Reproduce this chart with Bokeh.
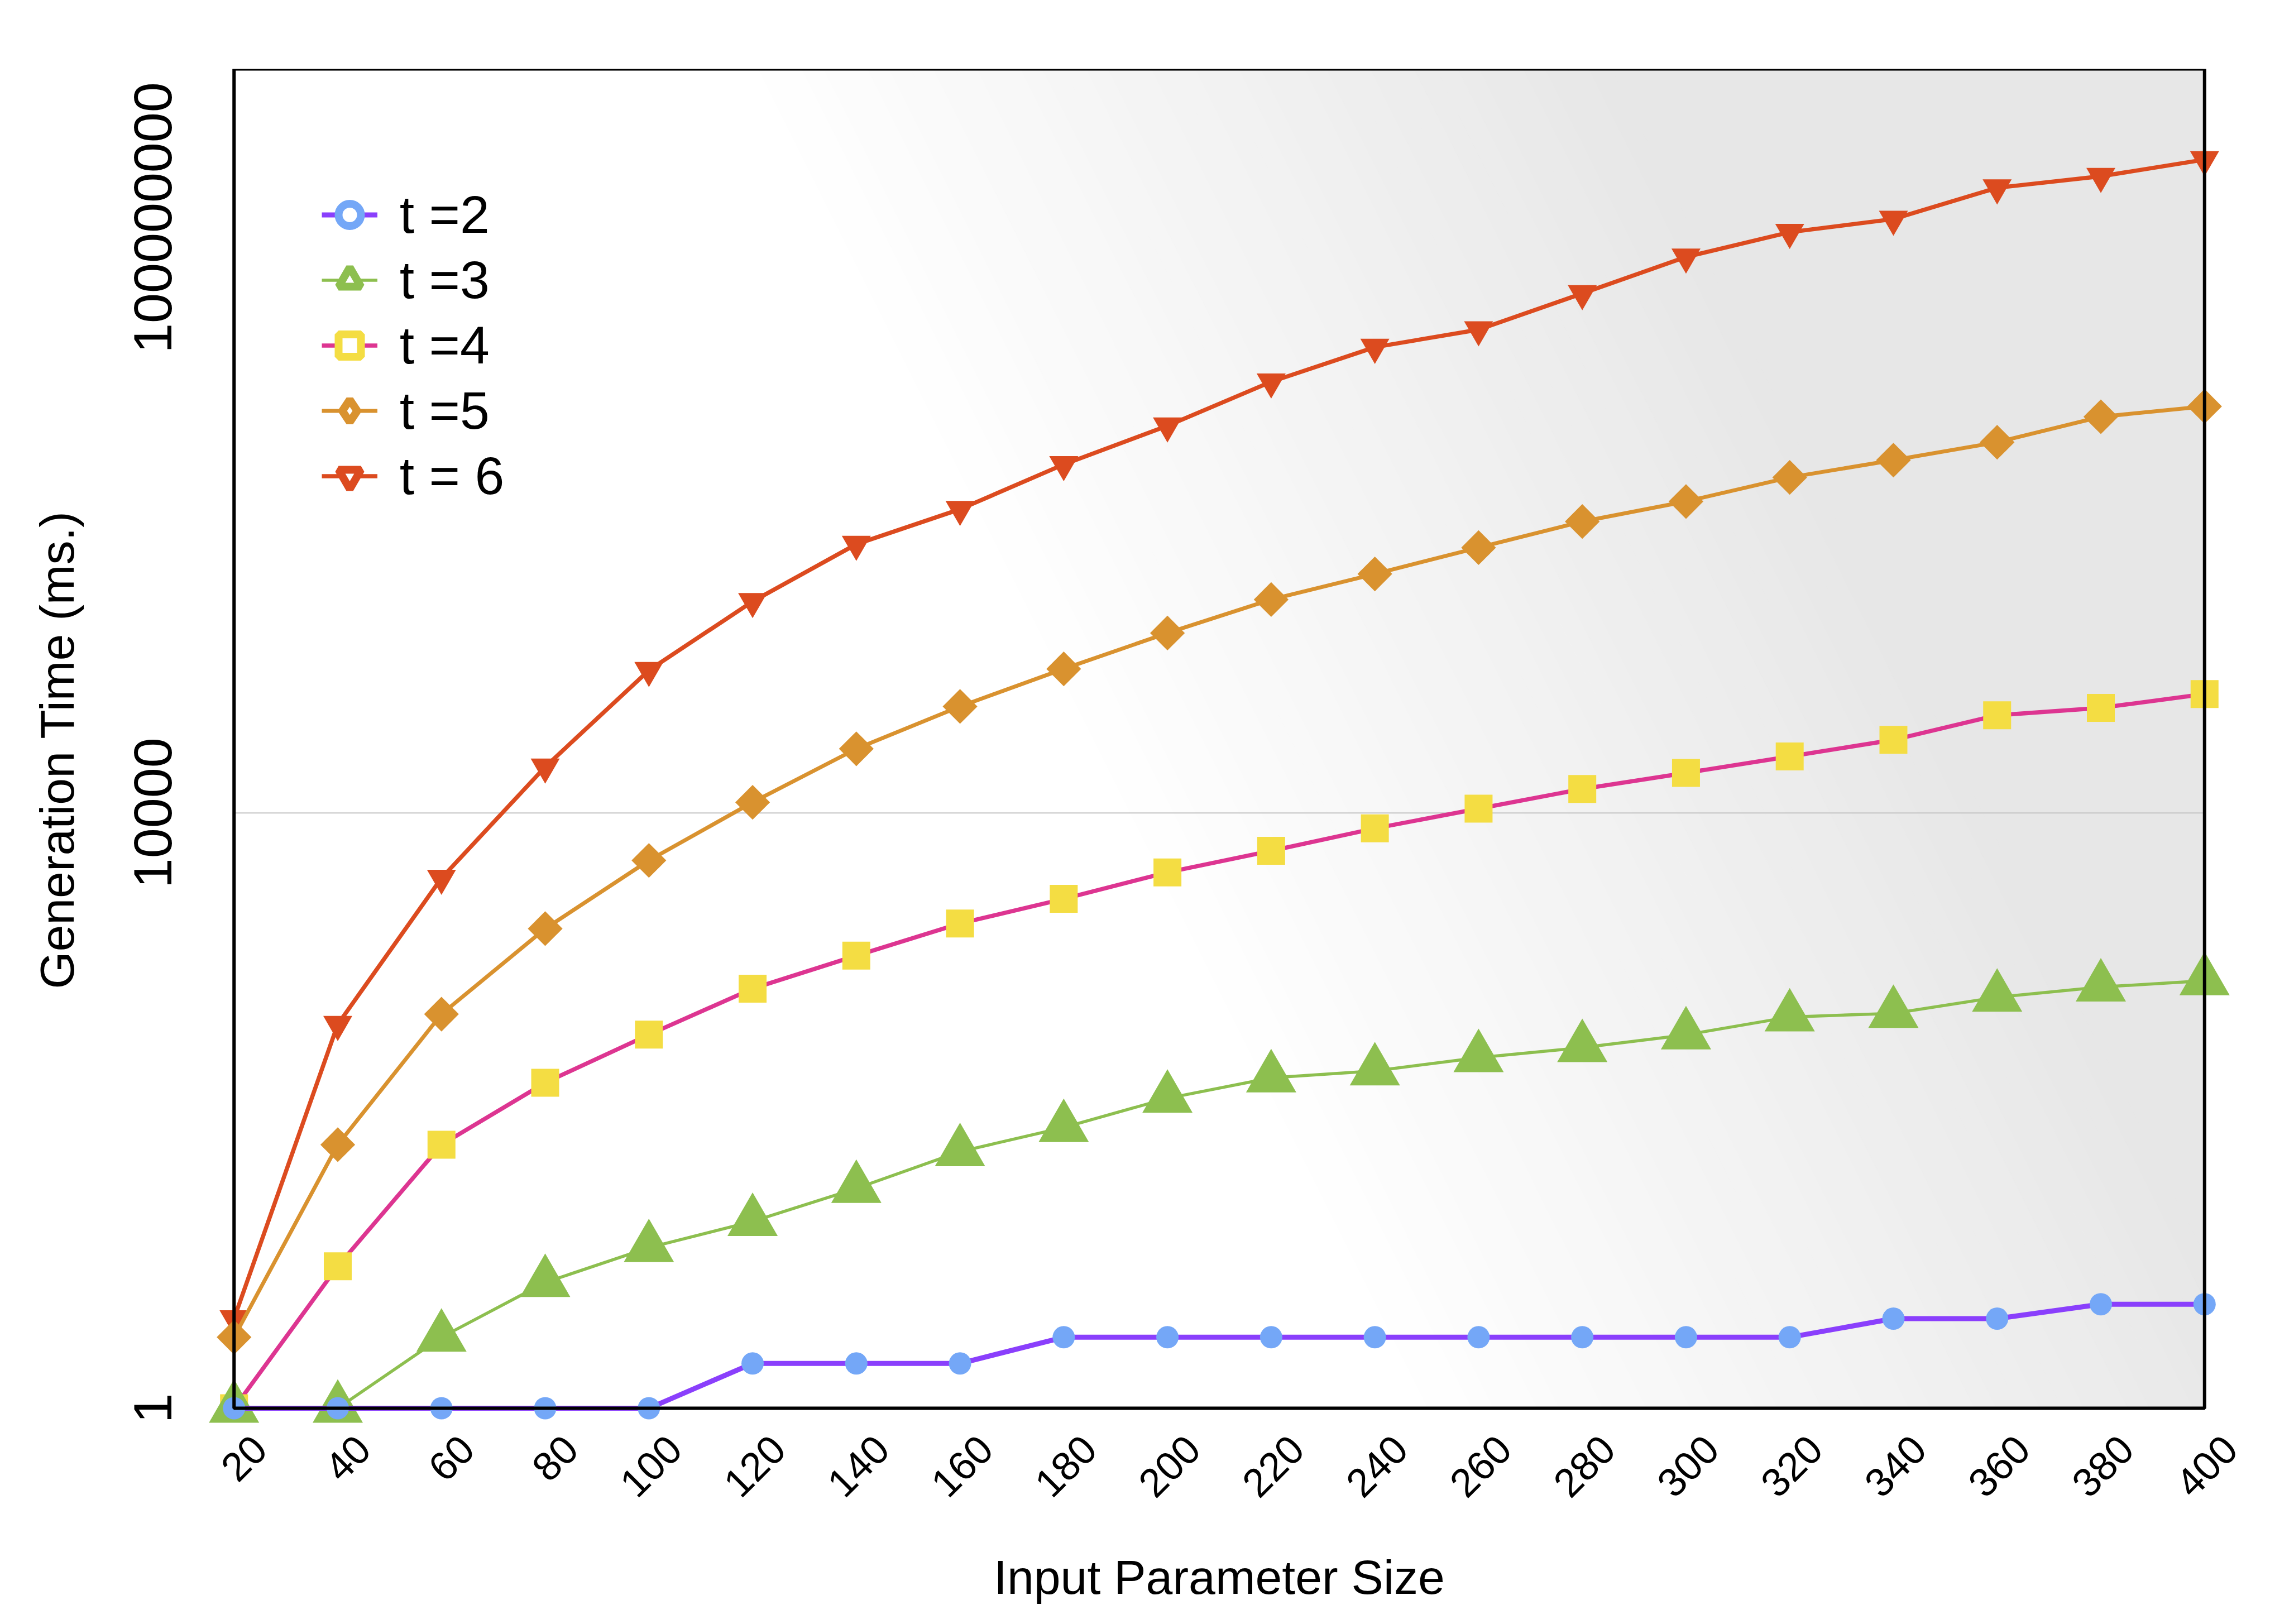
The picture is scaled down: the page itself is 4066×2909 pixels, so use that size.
import math
from bokeh.plotting import figure
from bokeh.models import (Range1d, FixedTicker, NumeralTickFormatter, Legend, LegendItem,
                          ColumnDataSource, BoxAnnotation)
from bokeh.embed import file_html
from bokeh.resources import INLINE

# ---------------- data ----------------
x_values = [20, 40, 60, 80, 100, 120, 140, 160, 180, 200, 220, 240, 260, 280, 300, 320, 340, 360, 380, 400]
t2 = [1, 1, 1, 1, 1, 2, 2, 2, 3, 3, 3, 3, 3, 3, 3, 3, 4, 4, 5, 5]
t3 = [1, 1, 3, 7, 12, 18, 30, 53, 77, 121, 166, 185, 227, 265, 323, 426, 450, 578, 677, 746]
t4 = [1, 9, 59, 154, 324, 660, 1100, 1810, 2650, 3990, 5570, 7880, 10700, 14500, 18600, 24000,
      31000, 45400, 50900, 63000]
t5 = [3, 59, 445, 1670, 4800, 11800, 27000, 52000, 93000, 162000, 272000, 404000, 607000, 909000,
      1240000, 1800000, 2350000, 3100000, 4600000, 5400000]
t6 = [4, 380, 3650, 20400, 91000, 264000, 640000, 1100000, 2200000, 4000000, 7900000, 13500000,
      17700000, 31000000, 54500000, 80000000, 98000000, 159000000, 190000000, 246000000]
series_labels = ["t =2", "t =3", "t =4", "t =5", "t = 6"]
y_ticks = [1, 10000, 100000000]
grid_ticks = [10000]
x_title = "Input Parameter Size"
y_title = "Generation Time (ms.)"

# ---------------- layout constants (page px) ----------------
FIG_W, FIG_H = 4050, 2893
PAGE = 8
X_LO, X_HI = 20, 400
Y_LO, Y_HI = 1, 1e9
XL_PAGE, XR_PAGE = 427.0, 3956.0
YB_PAGE, YT_PAGE = 2530.0, 131.0
PX_PER_X = (XR_PAGE - XL_PAGE) / (X_HI - X_LO)
PX_PER_DEC = (YB_PAGE - YT_PAGE) / 9.0
X_PAD = 6.0
Y_PAD_DEC = 0.15
LABEL_SHIFT_PX = 46.0   # centres the rotated tick labels on their ticks

frame_left = XL_PAGE - X_PAD * PX_PER_X
frame_right = XR_PAGE + X_PAD * PX_PER_X
frame_top = YT_PAGE
frame_bottom = YB_PAGE + Y_PAD_DEC * PX_PER_DEC

p = figure(width=FIG_W, height=FIG_H, y_axis_type="log",
           x_range=Range1d(X_LO - X_PAD, X_HI + X_PAD),
           y_range=Range1d(10 ** (-Y_PAD_DEC), Y_HI),
           output_backend="svg", toolbar_location=None,
           min_border_left=int(round(frame_left - PAGE)),
           min_border_right=int(round(FIG_W - (frame_right - PAGE))),
           min_border_top=int(round(frame_top - PAGE)),
           min_border_bottom=int(round(FIG_H - (frame_bottom - PAGE))))
p.outline_line_color = None
p.background_fill_color = "white"
p.border_fill_color = "white"
p.xgrid.visible = False
p.ygrid.visible = False

s_shift = LABEL_SHIFT_PX / PX_PER_X
p.extra_x_ranges = {"labels": Range1d(X_LO - X_PAD - s_shift, X_HI + X_PAD - s_shift)}

# ---------------- gradient background (screen-space bands) ----------------
BW = XR_PAGE - XL_PAGE
BH = YB_PAGE - YT_PAGE
nx, ny = 0.894, -0.447
d0 = nx * 900.0
DSPAN = 1400.0
G_END = 231
K = 40

def clip(poly, c, keep_ge):
    out = []
    n = len(poly)
    for i in range(n):
        P = poly[i]
        Q = poly[(i + 1) % n]
        dp = nx * P[0] + ny * P[1] - c
        dq = nx * Q[0] + ny * Q[1] - c
        inP = dp >= 0 if keep_ge else dp <= 0
        inQ = dq >= 0 if keep_ge else dq <= 0
        if inP:
            out.append(P)
        if inP != inQ:
            t = dp / (dp - dq)
            out.append((P[0] + t * (Q[0] - P[0]), P[1] + t * (Q[1] - P[1])))
    return out

rect = [(0, 0), (BW, 0), (BW, BH), (0, BH)]
gxs, gys, gcs = [], [], []
edges = [d0 + DSPAN * k / K for k in range(K + 1)]
bands = [(edges[k], edges[k + 1], (k + 0.5) / K) for k in range(K)] + [(edges[-1], None, 1.0)]
for a, b, tm in bands:
    poly = clip(rect, a, True)
    if b is not None and poly:
        poly = clip(poly, b, False)
    if len(poly) < 3:
        continue
    g = int(round(255 - (255 - G_END) * tm))
    gxs.append([X_LO + X / BW * (X_HI - X_LO) for X, Y in poly])
    gys.append([10 ** (9.0 * (1 - Y / BH)) for X, Y in poly])
    gcs.append("#%02x%02x%02x" % (g, g, g))
p.patches(xs="xs", ys="ys", fill_color="c", line_color="c", line_width=1.5,
          source=ColumnDataSource(dict(xs=gxs, ys=gys, c=gcs)), level="underlay")

# grid line at 10000 only, inside the box
p.segment(x0=[X_LO] * len(grid_ticks), x1=[X_HI] * len(grid_ticks), y0=grid_ticks, y1=grid_ticks,
          line_color="#c4c4c4", line_width=2, level="underlay")

# frame border (drawn beneath the data glyphs, above the background)
p.add_layout(BoxAnnotation(left=X_LO, right=X_HI, bottom=Y_LO, top=Y_HI, fill_alpha=0,
                           line_color="black", line_alpha=1.0, line_width=6, level="glyph"))

# ---------------- series ----------------
specs = [
    # label, values, line color, marker color, marker, size, line width, angle, legend marker
    ("t = 6", t6, "#dc4b1f", "#dc4b1f", "inverted_triangle", 52, 7.5, 0.0, "inverted_triangle"),
    ("t =5", t5, "#d9922f", "#d9922f", "square", 44, 7, math.pi / 4, "diamond"),
    ("t =4", t4, "#dd3591", "#f4dd43", "square", 50, 7.5, 0.0, "square"),
    ("t =3", t3, "#8dbf4f", "#8dbf4f", "triangle", 90, 5.5, 0.0, "triangle"),
    ("t =2", t2, "#8a3ffc", "#74a7f7", "circle", 40, 9, 0.0, "circle"),
]
items = {}
for label, vals, lc, mc, mk, sz, lw, ang, lmk in specs:
    src = ColumnDataSource(dict(x=x_values, y=vals))
    lr = p.line("x", "y", source=src, line_color=lc, line_width=lw)
    p.scatter("x", "y", source=src, marker=mk, size=sz, angle=ang,
              fill_color=mc, line_color=mc, line_width=0)
    hollow = p.scatter("x", "y", source=src, marker=lmk, size=10, fill_color="white",
                       line_color=mc, line_width=14)
    hollow.visible = False
    items[label] = LegendItem(label=label, renderers=[lr, hollow])

GLYPH_W, ROW_H = 100, 117
leg_x = (634.0 - GLYPH_W / 2) - frame_left
leg_top_from_frame = (392.0 - ROW_H / 2) - frame_top
frame_h = frame_bottom - frame_top
leg_y = frame_h - leg_top_from_frame - ROW_H * len(series_labels)
legend = Legend(items=[items[l] for l in series_labels], location=(leg_x, leg_y),
                padding=0, spacing=0, margin=0, border_line_color=None,
                background_fill_alpha=0, glyph_width=GLYPH_W, glyph_height=ROW_H,
                label_standoff=40, label_text_font="Liberation Sans",
                label_text_font_size="95px", label_text_color="black")
p.add_layout(legend)

# ---------------- axes ----------------
xa = p.xaxis[0]
xa.x_range_name = "labels"
xa.ticker = FixedTicker(ticks=x_values)
xa.major_label_orientation = math.pi / 4
xa.major_label_text_font = "Liberation Sans"
xa.major_label_text_font_size = "72px"
xa.major_label_text_color = "black"
xa.major_label_standoff = 15
xa.major_tick_line_color = None
xa.minor_tick_line_color = None
xa.axis_line_color = None
xa.axis_label = x_title
xa.axis_label_text_font = "Liberation Sans"
xa.axis_label_text_font_size = "86px"
xa.axis_label_text_font_style = "normal"
xa.axis_label_text_color = "black"
xa.axis_label_standoff = 70

ya = p.yaxis[0]
ya.ticker = FixedTicker(ticks=y_ticks)
ya.formatter = NumeralTickFormatter(format="0")
ya.major_label_orientation = "vertical"
ya.major_label_text_font = "Liberation Sans"
ya.major_label_text_font_size = "97px"
ya.major_label_text_color = "black"
ya.major_label_standoff = 50
ya.major_tick_line_color = None
ya.minor_tick_line_color = None
ya.axis_line_color = None
ya.axis_label = y_title
ya.axis_label_text_font = "Liberation Sans"
ya.axis_label_text_font_size = "86px"
ya.axis_label_text_font_style = "normal"
ya.axis_label_text_color = "black"
ya.axis_label_standoff = 88

open("out.html", "w").write(file_html(p, INLINE))
